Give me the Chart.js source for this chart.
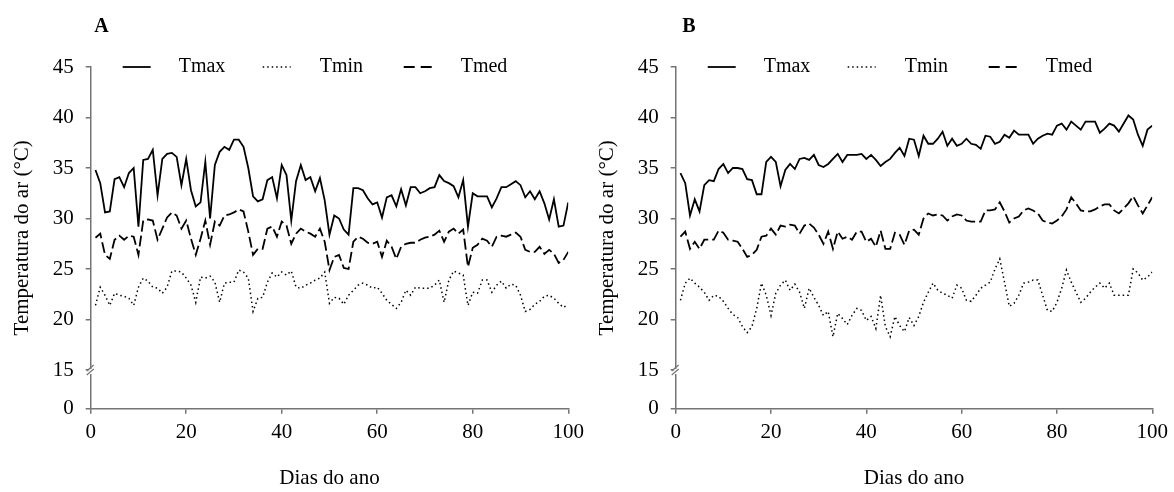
<!DOCTYPE html>
<html>
<head>
<meta charset="utf-8">
<script src="https://cdn.jsdelivr.net/npm/chart.js@4.4.0/dist/chart.umd.min.js"></script>
<style>
  html, body { margin: 0; padding: 0; background: #fff; }
  #wrap { position: relative; width: 1174px; height: 492px; }
  canvas { position: absolute; top: 0; }
  #chartA { left: 0; }
  #chartB { left: 590px; }
</style>
</head>
<body>
<div id="wrap">
  <canvas id="chartA" width="590" height="492"></canvas>
  <canvas id="chartB" width="584" height="492"></canvas>
</div>
<script>
// Tick values / labels
const xTicks = [0, 20, 40, 60, 80, 100];
const yTicks = [15, 20, 25, 30, 35, 40, 45];
const yBreakLabel = '0';
const seriesNames = ['Tmax', 'Tmin', 'Tmed'];

// Panel A - daily air temperature (°C), days 1..100
const tmaxA = [
  34.8, 33.5, 30.6, 30.7, 33.9, 34.1, 33.1, 34.5, 35.0, 29.2,
  35.8, 35.9, 36.8, 32.3, 35.9, 36.4, 36.5, 36.1, 33.3, 35.9,
  32.8, 31.2, 31.6, 35.6, 30.0, 35.3, 36.6, 37.1, 36.8, 37.8,
  37.8, 37.1, 35.0, 32.2, 31.7, 31.9, 33.8, 34.1, 32.0, 35.3,
  34.3, 29.8, 33.7, 35.3, 33.8, 34.1, 32.7, 34.0, 31.8, 28.4,
  30.3, 30.0, 28.9, 28.4, 33.0, 33.0, 32.8, 32.0, 31.4, 31.6,
  30.1, 32.1, 32.3, 31.2, 32.9, 31.3, 33.1, 33.1, 32.5, 32.7,
  33.0, 33.1, 34.3, 33.7, 33.5, 33.2, 32.1, 33.8, 29.2, 32.5,
  32.2, 32.2, 32.2, 31.1, 32.0, 33.1, 33.1, 33.4, 33.7, 33.3,
  32.1, 32.7, 31.9, 32.7, 31.5, 29.9, 31.9, 29.2, 29.3, 31.6
];
const tminA = [
  21.4, 23.2, 22.4, 21.4, 22.6, 22.4, 22.3, 22.1, 21.4, 23.2,
  24.1, 23.8, 23.2, 23.1, 22.6, 23.2, 24.8, 24.8, 24.7, 24.1,
  23.4, 21.7, 24.2, 24.1, 24.3, 23.7, 21.7, 23.6, 23.7, 23.7,
  24.9, 24.7, 24.1, 20.8, 22.1, 22.2, 23.7, 24.6, 24.2, 24.7,
  24.4, 24.8, 23.2, 23.1, 23.4, 23.6, 23.9, 24.1, 24.7, 21.6,
  22.2, 22.1, 21.5, 22.4, 22.9, 23.4, 23.6, 23.4, 23.1, 23.2,
  22.6, 21.9, 21.5, 21.1, 21.7, 22.9, 22.4, 23.2, 23.1, 23.1,
  23.1, 23.4, 23.9, 21.7, 23.9, 24.8, 24.6, 24.4, 21.4, 22.7,
  22.6, 23.9, 23.9, 22.7, 23.4, 23.8, 23.1, 23.5, 23.4, 22.4,
  20.8, 21.0, 21.5, 21.8, 22.3, 22.4, 22.1, 21.6, 21.2, 21.5
];
const tmedA = [
  28.1, 28.5, 26.4, 26.0, 27.9, 28.3, 27.9, 28.3, 28.2, 26.4,
  29.8, 29.9, 29.8, 27.9, 29.0, 30.1, 30.6, 30.3, 29.0, 29.8,
  28.0, 26.4, 28.0, 29.8, 27.4, 29.7, 29.3, 30.3, 30.4, 30.6,
  30.9, 30.7, 28.7, 26.4, 27.0, 27.0, 29.0, 29.2, 28.2, 29.7,
  29.3, 27.5, 28.5, 29.0, 28.7, 28.5, 28.2, 29.0, 27.7, 24.9,
  26.2, 26.4, 25.1, 25.0, 27.7, 28.2, 28.0, 27.6, 27.5, 27.7,
  26.2, 27.8, 27.2, 26.0, 27.2, 27.5, 27.6, 27.6, 27.9, 28.1,
  28.2, 28.4, 28.8, 27.7, 28.7, 29.0, 28.5, 28.9, 25.2, 27.1,
  27.4, 28.0, 27.8, 27.2, 28.2, 28.3, 28.2, 28.4, 28.6, 28.2,
  26.9, 26.7, 26.7, 27.2, 26.5, 26.9, 26.5, 25.6, 25.9, 26.7
];

// Panel B
const tmaxB = [
  34.5, 33.5, 30.3, 31.9, 30.7, 33.3, 33.8, 33.7, 34.9, 35.4,
  34.5, 35.0, 35.0, 34.9, 33.9, 33.8, 32.4, 32.4, 35.6, 36.1,
  35.6, 33.2, 34.8, 35.4, 34.9, 35.9, 36.0, 35.8, 36.3, 35.3,
  35.1, 35.4, 35.9, 36.4, 35.6, 36.3, 36.3, 36.3, 36.4, 35.9,
  36.3, 35.8, 35.2, 35.6, 35.9, 36.5, 37.0, 36.2, 37.9, 37.8,
  36.2, 38.2, 37.4, 37.4, 37.9, 38.6, 37.2, 37.9, 37.2, 37.4,
  37.9, 37.4, 37.3, 36.9, 38.2, 38.1, 37.4, 37.6, 38.3, 38.0,
  38.7, 38.3, 38.3, 38.3, 37.4, 37.9, 38.2, 38.4, 38.3, 39.2,
  39.4, 38.8, 39.6, 39.2, 38.8, 39.6, 39.6, 39.6, 38.5, 38.9,
  39.4, 39.2, 38.6, 39.4, 40.2, 39.8, 38.3, 37.2, 38.8, 39.2
];
const tminB = [
  21.9, 23.6, 24.1, 23.6, 23.2, 22.7, 21.9, 22.4, 22.3, 21.8,
  21.1, 20.5, 20.2, 19.3, 18.7, 19.3, 21.1, 23.6, 22.4, 20.4,
  22.6, 23.4, 23.9, 22.9, 23.5, 22.7, 21.1, 23.1, 22.2, 21.4,
  20.4, 20.8, 18.3, 20.6, 20.1, 19.5, 20.4, 21.1, 20.9, 19.9,
  20.3, 19.1, 22.4, 19.3, 18.3, 20.3, 19.4, 18.8, 20.2, 19.4,
  20.3, 21.7, 22.7, 23.6, 22.9, 22.6, 22.4, 22.1, 23.4, 23.1,
  21.9, 21.8, 22.4, 23.1, 23.4, 23.7, 25.0, 26.0, 23.7, 21.3,
  21.6, 22.4, 23.6, 23.7, 23.9, 23.9, 22.4, 20.9, 20.8, 21.7,
  23.1, 24.9, 23.7, 22.7, 21.7, 22.1, 22.7, 23.2, 23.6, 23.1,
  23.6, 22.4, 22.4, 22.4, 22.4, 25.0, 24.6, 23.9, 24.2, 24.7
];
const tmedB = [
  28.2, 28.7, 27.0, 27.7, 27.0, 27.9, 27.9, 27.9, 28.8, 28.6,
  27.9, 27.8, 27.7, 27.0, 26.2, 26.4, 26.9, 28.2, 28.3, 29.0,
  28.4, 29.3, 29.2, 29.4, 29.3, 28.5, 29.3, 29.5, 29.1, 28.4,
  27.5, 28.7, 27.0, 28.7, 28.0, 28.2, 27.9, 28.7, 28.7, 27.7,
  28.0, 27.2, 28.8, 27.0, 27.0, 28.6, 28.4, 27.4, 28.8, 28.9,
  28.4, 30.0, 30.5, 30.3, 30.4, 30.3, 29.8, 30.2, 30.4, 30.3,
  29.8, 29.7, 29.7, 29.7, 30.8, 30.8, 30.9, 31.6, 30.7, 29.6,
  30.0, 30.2, 30.8, 31.0, 30.8, 30.5, 29.8, 29.6, 29.5, 29.8,
  30.2, 30.9, 32.1, 31.5, 30.8, 30.7, 30.7, 30.9, 31.2, 31.4,
  31.4, 30.8, 30.5, 31.0, 31.5, 32.2, 31.3, 30.5, 31.3, 32.1
];

const FONT = '"Liberation Serif", "Times New Roman", serif';
const AXIS_COLOR = '#747474';
// the y axis is broken between 0 and 15: "0" sits this far below 15
const AXIS_FLOOR = 11.17;

const lineStyles = {
  Tmax: { width: 1.8, dash: [], legendDash: [] },
  Tmin: { width: 1.5, dash: [1.5, 3], legendDash: [1.5, 3] },
  Tmed: { width: 1.8, dash: [11, 4], legendDash: [11, 6] }
};

// legend item offsets from the y axis (px)
const legendLayout = [
  { line: [32, 60], text: 88 },
  { line: [172, 200], text: 229 },
  { line: [313, 341], text: 370 }
];

function toPoints(values) {
  return values.map((v, i) => ({ x: i + 1, y: v }));
}

const decorPlugin = {
  id: 'decor',
  afterDraw(chart, args, opts) {
    const { ctx, chartArea: ca, scales } = chart;
    ctx.save();
    ctx.fillStyle = '#000';

    // panel letter
    ctx.font = 'bold 20px ' + FONT;
    ctx.textAlign = 'left';
    ctx.textBaseline = 'middle';
    ctx.fillText(opts.letter, ca.left + opts.letterDx, 27);

    // axis titles
    ctx.font = '21px ' + FONT;
    ctx.textAlign = 'center';
    ctx.fillText('Dias do ano', (ca.left + ca.right) / 2, 478);
    ctx.save();
    ctx.translate(ca.left - 68.7, (ca.top + ca.bottom) / 2);
    ctx.rotate(-Math.PI / 2);
    ctx.fillText('Temperatura do ar (°C)', 0, 0);
    ctx.restore();

    // legend inside the plot, on the 45 line
    ctx.font = '20px ' + FONT;
    ctx.textAlign = 'left';
    const ly = ca.top;
    seriesNames.forEach((name, i) => {
      const st = lineStyles[name];
      const pos = legendLayout[i];
      ctx.strokeStyle = '#000';
      ctx.lineWidth = st.width;
      ctx.setLineDash(st.legendDash);
      ctx.beginPath();
      ctx.moveTo(ca.left + pos.line[0], ly);
      ctx.lineTo(ca.left + pos.line[1], ly);
      ctx.stroke();
      ctx.setLineDash([]);
      ctx.fillText(name, ca.left + pos.text, ly);
    });

    // axis break mark at 15
    const yb = scales.y.getPixelForValue(15);
    const xb = ca.left;
    ctx.fillStyle = '#fff';
    ctx.fillRect(xb - 1.5, yb - 1, 3, 5);
    ctx.strokeStyle = AXIS_COLOR;
    ctx.lineWidth = 1.2;
    ctx.beginPath();
    ctx.moveTo(xb - 4, yb + 1);
    ctx.lineTo(xb + 3, yb - 5);
    ctx.moveTo(xb - 4, yb + 5);
    ctx.lineTo(xb + 3, yb - 1);
    ctx.stroke();

    ctx.restore();
  }
};

function makePanel(canvasId, letter, tmax, tmin, tmed, padding) {
  const data = { Tmax: tmax, Tmin: tmin, Tmed: tmed };
  const datasets = seriesNames.map(name => ({
    label: name,
    data: toPoints(data[name]),
    borderColor: '#000',
    borderWidth: lineStyles[name].width,
    borderDash: lineStyles[name].dash,
    pointRadius: 0,
    tension: 0,
    fill: false
  }));

  return new Chart(document.getElementById(canvasId), {
    type: 'line',
    data: { datasets: datasets },
    options: {
      responsive: false,
      animation: false,
      devicePixelRatio: 1,
      layout: { padding: padding },
      plugins: {
        legend: { display: false },
        tooltip: { enabled: false },
        decor: { letter: letter, letterDx: letter === 'A' ? 3.5 : 6.5 }
      },
      scales: {
        x: {
          type: 'linear',
          min: 0,
          max: 100,
          afterBuildTicks: (s) => { s.ticks = xTicks.map(v => ({ value: v })); },
          afterFit: (s) => { s.height = 40; },
          grid: { drawOnChartArea: false, tickLength: 5, color: AXIS_COLOR, lineWidth: 1.5 },
          border: { display: true, color: AXIS_COLOR, width: 1.5 },
          ticks: { color: '#000', font: { family: FONT, size: 21 }, padding: 6, maxRotation: 0 }
        },
        y: {
          type: 'linear',
          min: AXIS_FLOOR,
          max: 45,
          afterBuildTicks: (s) => { s.ticks = [AXIS_FLOOR, ...yTicks].map(v => ({ value: v })); },
          afterFit: (s) => { s.width = 50; },
          grid: { drawOnChartArea: false, tickLength: 5, color: AXIS_COLOR, lineWidth: 1.5 },
          border: { display: true, color: AXIS_COLOR, width: 1.5 },
          ticks: {
            color: '#000',
            font: { family: FONT, size: 21 },
            padding: 12,
            autoSkip: false,
            callback: (v) => v < 15 ? yBreakLabel : v
          }
        }
      }
    },
    plugins: [decorPlugin]
  });
}

makePanel('chartA', 'A', tmaxA, tminA, tmedA, { left: 40.7, right: 19, top: 67, bottom: 43.3 });
makePanel('chartB', 'B', tmaxB, tminB, tmedB, { left: 35.7, right: 18, top: 67, bottom: 43.3 });
</script>
</body>
</html>
